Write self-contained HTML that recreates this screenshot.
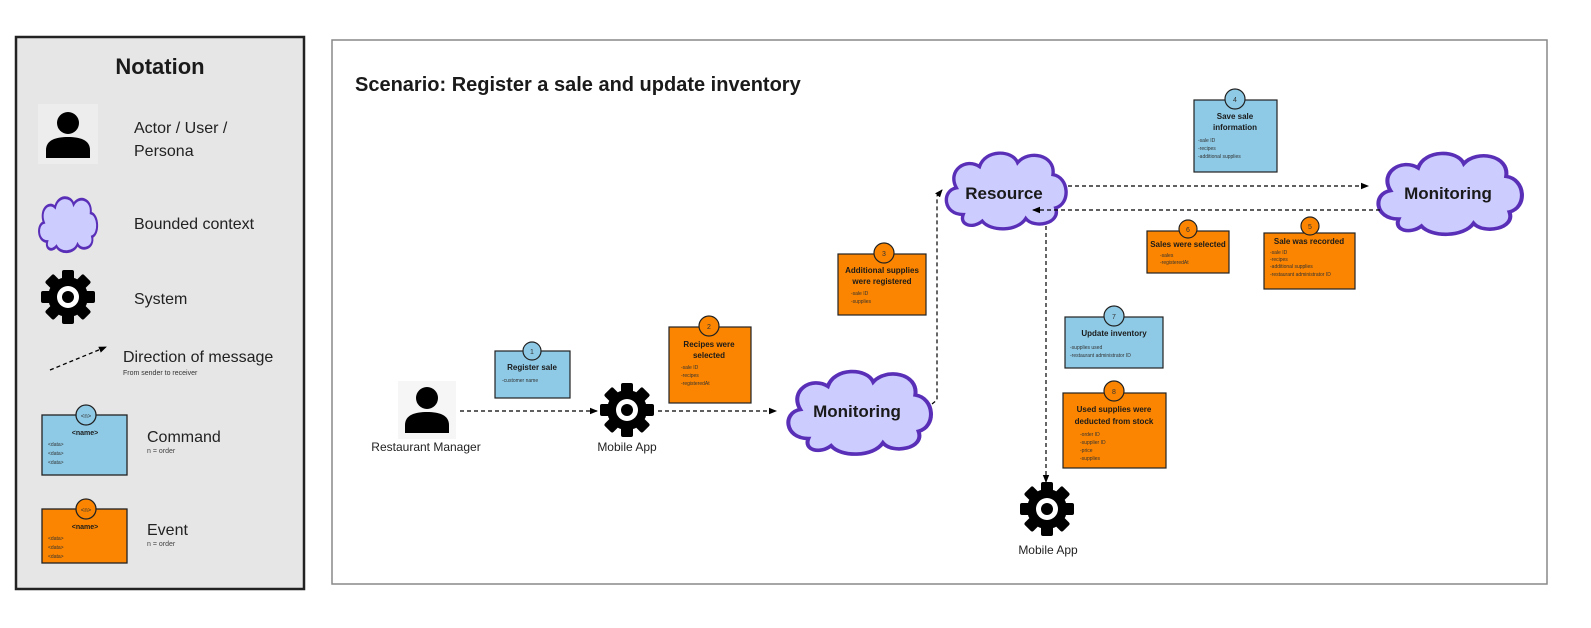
<!DOCTYPE html>
<html><head><meta charset="utf-8"><style>
html,body{margin:0;padding:0;background:#fff;width:1591px;height:628px;overflow:hidden}
svg{display:block;font-family:"Liberation Sans",sans-serif}
.t{font-weight:bold;fill:#1a1a1a}
.s{fill:#333;font-size:5px}
</style></head><body>
<svg width="1591" height="628" viewBox="0 0 1591 628" xmlns="http://www.w3.org/2000/svg">
<defs>
<marker id="ah" markerWidth="8" markerHeight="8" refX="7" refY="4" orient="auto" markerUnits="userSpaceOnUse">
<path d="M0,0.8 L8,4 L0,7.2 Z" fill="#000"/></marker>
<g id="gear">
<g fill="#000">
<rect x="-6" y="-27" width="12" height="54" rx="2"/>
<rect x="-6" y="-27" width="12" height="54" rx="2" transform="rotate(45)"/>
<rect x="-6" y="-27" width="12" height="54" rx="2" transform="rotate(90)"/>
<rect x="-6" y="-27" width="12" height="54" rx="2" transform="rotate(135)"/>
<circle r="20"/>
</g>
<circle r="11" fill="#fff"/><circle r="6" fill="#000"/>
</g>
<g id="actor" fill="#000">
<circle cx="0" cy="-11" r="11"/>
<path d="M-22,24 L-22,16 C-22,6 -12,3 0,3 C12,3 22,6 22,16 L22,24 Z"/>
</g>
<path id="cloud" d="M20,50 C5,50 4,32 15,30 C8,17 22,7 32,14 C36,1 56,1 60,11 C68,1 88,5 86,20 C98,22 99,42 88,45 C92,57 72,61 66,53 C60,63 40,63 34,55 C27,61 17,58 20,50 Z"/>
</defs>

<!-- Notation panel -->
<rect x="16" y="37" width="288" height="552" fill="#e6e6e6" stroke="#222" stroke-width="2.5"/>
<text x="160" y="74" text-anchor="middle" class="t" font-size="22">Notation</text>
<rect x="38" y="104" width="60" height="60" fill="#ededed"/>
<use href="#actor" transform="translate(68,134)"/>
<text x="134" y="133" font-size="16" fill="#222">Actor / User /</text>
<text x="134" y="156" font-size="16" fill="#222">Persona</text>
<use href="#cloud" transform="translate(34,194) scale(0.66,0.95)" fill="#ccccff" stroke="#5a2fb8" stroke-width="3" vector-effect="non-scaling-stroke"/>
<text x="134" y="229" font-size="16" fill="#222">Bounded context</text>
<use href="#gear" transform="translate(68,297)"/>
<text x="134" y="304" font-size="16" fill="#222">System</text>
<line x1="50" y1="370" x2="106" y2="347" stroke="#000" stroke-width="1.3" stroke-dasharray="4,3" marker-end="url(#ah)"/>
<text x="123" y="362" font-size="16" fill="#222">Direction of message</text>
<text x="123" y="375" font-size="7" fill="#333">From sender to receiver</text>
<rect x="42" y="415" width="85" height="60" fill="#8ecae6" stroke="#222" stroke-width="1.3"/>
<circle cx="86" cy="415" r="10" fill="#8ecae6" stroke="#222" stroke-width="1.3"/>
<text x="86" y="418" text-anchor="middle" font-size="6" fill="#333">&lt;n&gt;</text>
<text x="85" y="435" text-anchor="middle" class="t" font-size="7">&lt;name&gt;</text>
<text x="48" y="446" class="s">&lt;data&gt;</text><text x="48" y="455" class="s">&lt;data&gt;</text><text x="48" y="464" class="s">&lt;data&gt;</text>
<text x="147" y="442" font-size="16" fill="#222">Command</text>
<text x="147" y="453" font-size="7" fill="#444">n = order</text>
<rect x="42" y="509" width="85" height="54" fill="#fb8500" stroke="#222" stroke-width="1.3"/>
<circle cx="86" cy="509" r="10" fill="#fb8500" stroke="#222" stroke-width="1.3"/>
<text x="86" y="512" text-anchor="middle" font-size="6" fill="#333">&lt;n&gt;</text>
<text x="85" y="529" text-anchor="middle" class="t" font-size="7">&lt;name&gt;</text>
<text x="48" y="540" class="s">&lt;data&gt;</text><text x="48" y="549" class="s">&lt;data&gt;</text><text x="48" y="558" class="s">&lt;data&gt;</text>
<text x="147" y="535" font-size="16" fill="#222">Event</text>
<text x="147" y="546" font-size="7" fill="#444">n = order</text>

<!-- Scenario frame -->
<rect x="332" y="40" width="1215" height="544" fill="#fff" stroke="#888" stroke-width="1.5"/>
<text x="355" y="91" class="t" font-size="20">Scenario: Register a sale and update inventory</text>

<!-- actor & systems -->
<rect x="398" y="381" width="58" height="58" fill="#f6f6f6"/>
<use href="#actor" transform="translate(427,409)"/>
<text x="426" y="451" text-anchor="middle" font-size="12" fill="#222">Restaurant Manager</text>
<use href="#gear" transform="translate(627,410)"/>
<text x="627" y="451" text-anchor="middle" font-size="12" fill="#222">Mobile App</text>
<use href="#gear" transform="translate(1047,509)"/>
<text x="1048" y="554" text-anchor="middle" font-size="12" fill="#222">Mobile App</text>

<!-- clouds -->
<use href="#cloud" transform="translate(776,366) scale(1.62,1.45)" fill="#ccccff" stroke="#5a2fb8" stroke-width="2.5" vector-effect="non-scaling-stroke"/>
<text x="857" y="417" text-anchor="middle" class="t" font-size="17">Monitoring</text>
<use href="#cloud" transform="translate(936,148) scale(1.36,1.33)" fill="#ccccff" stroke="#5a2fb8" stroke-width="2.5" vector-effect="non-scaling-stroke"/>
<text x="1004" y="199" text-anchor="middle" class="t" font-size="17">Resource</text>
<use href="#cloud" transform="translate(1366,148) scale(1.63,1.42)" fill="#ccccff" stroke="#5a2fb8" stroke-width="2.5" vector-effect="non-scaling-stroke"/>
<text x="1448" y="199" text-anchor="middle" class="t" font-size="17">Monitoring</text>

<!-- connectors -->
<g stroke="#000" stroke-width="1.2" stroke-dasharray="4,3" fill="none">
<line x1="460" y1="411" x2="597" y2="411" marker-end="url(#ah)"/>
<line x1="658" y1="411" x2="776" y2="411" marker-end="url(#ah)"/>
<polyline points="932,404 937,400 937,196 942,190" marker-end="url(#ah)"/>
<line x1="1068" y1="186" x2="1368" y2="186" marker-end="url(#ah)"/>
<line x1="1380" y1="210" x2="1033" y2="210" marker-end="url(#ah)"/>
<line x1="1046" y1="226" x2="1046" y2="482" marker-end="url(#ah)"/>
</g>

<!-- 1 -->
<rect x="495" y="351" width="75" height="47" fill="#8ecae6" stroke="#222" stroke-width="1.2"/>
<circle cx="532" cy="351" r="9" fill="#8ecae6" stroke="#222" stroke-width="1.2"/>
<text x="532" y="354" text-anchor="middle" font-size="7" fill="#333">1</text>
<text x="532" y="370" text-anchor="middle" class="t" font-size="8">Register sale</text>
<text x="502" y="382" class="s">-customer name</text>
<!-- 2 -->
<rect x="669" y="327" width="82" height="76" fill="#fb8500" stroke="#222" stroke-width="1.2"/>
<circle cx="709" cy="326" r="10" fill="#fb8500" stroke="#222" stroke-width="1.2"/>
<text x="709" y="329" text-anchor="middle" font-size="7" fill="#333">2</text>
<text x="709" y="347" text-anchor="middle" class="t" font-size="8">Recipes were</text>
<text x="709" y="358" text-anchor="middle" class="t" font-size="8">selected</text>
<text x="681" y="369" class="s">-sale ID</text><text x="681" y="377" class="s">-recipes</text><text x="681" y="385" class="s">-registeredAt</text>
<!-- 3 -->
<rect x="838" y="254" width="88" height="61" fill="#fb8500" stroke="#222" stroke-width="1.2"/>
<circle cx="884" cy="253" r="10" fill="#fb8500" stroke="#222" stroke-width="1.2"/>
<text x="884" y="256" text-anchor="middle" font-size="7" fill="#333">3</text>
<text x="882" y="273" text-anchor="middle" class="t" font-size="8">Additional supplies</text>
<text x="882" y="284" text-anchor="middle" class="t" font-size="8">were registered</text>
<text x="851" y="295" class="s">-sale ID</text><text x="851" y="303" class="s">-supplies</text>
<!-- 4 -->
<rect x="1194" y="100" width="83" height="72" fill="#8ecae6" stroke="#222" stroke-width="1.2"/>
<circle cx="1235" cy="99" r="10" fill="#8ecae6" stroke="#222" stroke-width="1.2"/>
<text x="1235" y="102" text-anchor="middle" font-size="7" fill="#333">4</text>
<text x="1235" y="119" text-anchor="middle" class="t" font-size="8">Save sale</text>
<text x="1235" y="130" text-anchor="middle" class="t" font-size="8">information</text>
<text x="1198" y="142" class="s">-sale ID</text><text x="1198" y="150" class="s">-recipes</text><text x="1198" y="158" class="s">-additional supplies</text>
<!-- 6 -->
<rect x="1147" y="231" width="82" height="42" fill="#fb8500" stroke="#222" stroke-width="1.2"/>
<circle cx="1188" cy="229" r="9" fill="#fb8500" stroke="#222" stroke-width="1.2"/>
<text x="1188" y="232" text-anchor="middle" font-size="7" fill="#333">6</text>
<text x="1188" y="247" text-anchor="middle" class="t" font-size="8">Sales were selected</text>
<text x="1160" y="257" class="s">-sales</text><text x="1160" y="264" class="s">-registeredAt</text>
<!-- 5 -->
<rect x="1264" y="233" width="91" height="56" fill="#fb8500" stroke="#222" stroke-width="1.2"/>
<circle cx="1310" cy="226" r="9" fill="#fb8500" stroke="#222" stroke-width="1.2"/>
<text x="1310" y="229" text-anchor="middle" font-size="7" fill="#333">5</text>
<text x="1309" y="244" text-anchor="middle" class="t" font-size="8">Sale was recorded</text>
<text x="1270" y="254" class="s">-sale ID</text><text x="1270" y="261" class="s">-recipes</text><text x="1270" y="268" class="s">-additional supplies</text><text x="1270" y="276" class="s">-restaurant administrator ID</text>
<!-- 7 -->
<rect x="1065" y="317" width="98" height="51" fill="#8ecae6" stroke="#222" stroke-width="1.2"/>
<circle cx="1114" cy="316" r="10" fill="#8ecae6" stroke="#222" stroke-width="1.2"/>
<text x="1114" y="319" text-anchor="middle" font-size="7" fill="#333">7</text>
<text x="1114" y="336" text-anchor="middle" class="t" font-size="8">Update inventory</text>
<text x="1070" y="349" class="s">-supplies used</text><text x="1070" y="357" class="s">-restaurant administrator ID</text>
<!-- 8 -->
<rect x="1063" y="393" width="103" height="75" fill="#fb8500" stroke="#222" stroke-width="1.2"/>
<circle cx="1114" cy="391" r="10" fill="#fb8500" stroke="#222" stroke-width="1.2"/>
<text x="1114" y="394" text-anchor="middle" font-size="7" fill="#333">8</text>
<text x="1114" y="412" text-anchor="middle" class="t" font-size="8">Used supplies were</text>
<text x="1114" y="424" text-anchor="middle" class="t" font-size="8">deducted from stock</text>
<text x="1080" y="436" class="s">-order ID</text><text x="1080" y="444" class="s">-supplier ID</text><text x="1080" y="452" class="s">-price</text><text x="1080" y="460" class="s">-supplies</text>
</svg>
</body></html>
